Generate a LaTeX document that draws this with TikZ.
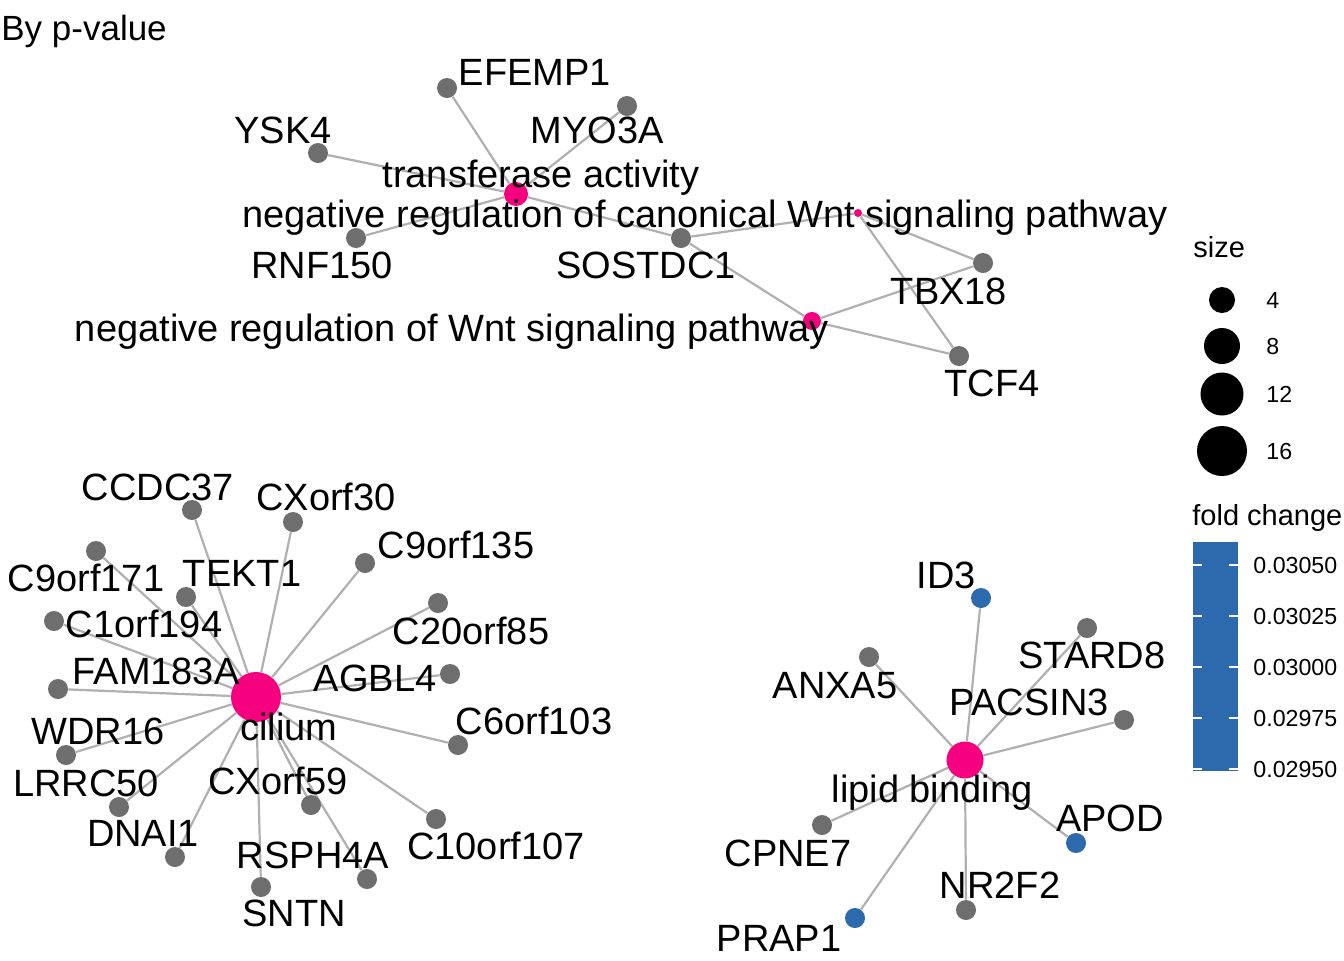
\documentclass[tikz,border=0pt]{standalone}
\usepackage{fontspec}
\setmainfont{Liberation Sans}
\usetikzlibrary{backgrounds}

\begin{document}
\begin{tikzpicture}[x=0.5pt,y=-0.5pt,
  gene/.style={circle,fill=dotgray,inner sep=0pt,minimum size=10pt},
  upgene/.style={gene,fill=fcblue},
  hub/.style={circle,fill=hubpink,inner sep=0pt},
  lab/.style={inner sep=0pt,text height=13.6pt,text depth=0pt,
    font=\fontsize{19}{21}\selectfont},
  link/.style={draw=linkgray,line width=1.1pt},
  keytitle/.style={inner sep=0pt,anchor=base west,font=\fontsize{14.5}{16}\selectfont},
  keytext/.style={inner sep=0pt,anchor=west,text height=8.3pt,text depth=0pt,
    font=\fontsize{11.6}{13}\selectfont}]
\definecolor{dotgray}{HTML}{6E6E6E}
\definecolor{linkgray}{HTML}{B0B0B0}
\definecolor{hubpink}{HTML}{F5007F}
\definecolor{fcblue}{HTML}{2C6AAD}
\useasboundingbox (0,0) rectangle (1344,960);

\node[keytitle,font=\fontsize{17.5}{19}\selectfont] (title) at (1,40) {By p-value};

% Wnt / transferase cluster
\node[hub,minimum size=12pt] (trans) at (516,194) {};
\node[hub,minimum size=4pt] (canon) at (858,213) {};
\node[hub,minimum size=9pt] (wntneg) at (812,321) {};
\foreach \g/\x/\y/\lx/\ly in {EFEMP1/447/88/535/72, MYO3A/627/106/597/130,
    YSK4/318/153/283/130, RNF150/356/238/322/265, SOSTDC1/681/238/646/265,
    TBX18/983/263/949/291, TCF4/959/356/992/383}
{
  \node[gene] (\g) at (\x,\y) {};
  \node[lab] (\g-t) at (\lx,\ly) {\g};
}
\node[lab] (trans-t) at (541,174) {transferase activity};
\node[lab] (canon-t) at (705,214) {negative regulation of canonical Wnt signaling pathway};
\node[lab] (wntneg-t) at (452,328) {negative regulation of Wnt signaling pathway};

% cilium cluster
\node[hub,minimum size=25pt] (cilium) at (256,697) {};
\foreach \g/\x/\y/\lx/\ly in {CCDC37/192/510/158/487, CXorf30/293/522/326/497,
    C9orf135/365/563/456/545, C9orf171/96/551/86/578, TEKT1/186/597/242/573,
    C1orf194/54/621/144/624, C20orf85/438/603/471/631, FAM183A/58/689/156/671,
    AGBL4/450/674/375/678, WDR16/66/755/98/731, C6orf103/458/745/534/721,
    LRRC50/119/807/86/783, CXorf59/311/805/278/781, DNAI1/175/857/143/833,
    C10orf107/436/819/496/846, RSPH4A/367/879/313/855, SNTN/261/887/294/913}
{
  \node[gene] (\g) at (\x,\y) {};
  \node[lab] (\g-t) at (\lx,\ly) {\g};
}
\node[lab] (cilium-t) at (289,727) {cilium};

% lipid binding cluster
\node[hub,minimum size=18.5pt] (lipid) at (965,760) {};
\foreach \g/\x/\y/\lx/\ly in {STARD8/1087/628/1092/655, ANXA5/869/657/835/685,
    PACSIN3/1124/720/1029/702, NR2F2/966/910/1000/885, CPNE7/822/825/788/853}
{
  \node[gene] (\g) at (\x,\y) {};
  \node[lab] (\g-t) at (\lx,\ly) {\g};
}
\foreach \g/\x/\y/\lx/\ly in {ID3/981/598/946/575, APOD/1076/843/1110/818,
    PRAP1/855/918/779/938}
{
  \node[upgene] (\g) at (\x,\y) {};
  \node[lab] (\g-t) at (\lx,\ly) {\g};
}
\node[lab] (lipid-t) at (932,789) {lipid binding};

% connectors behind everything
\begin{scope}[on background layer]
\fill[white] (0,0) rectangle (1344,960);
\foreach \g in {EFEMP1,MYO3A,YSK4,RNF150,SOSTDC1}
  \draw[link] (trans) -- (\g);
\foreach \g in {SOSTDC1,TBX18,TCF4}
  \draw[link] (canon) -- (\g) (wntneg) -- (\g);
\foreach \g in {CCDC37,CXorf30,C9orf135,C9orf171,TEKT1,C1orf194,C20orf85,
    FAM183A,AGBL4,WDR16,C6orf103,LRRC50,CXorf59,DNAI1,C10orf107,RSPH4A,SNTN}
  \draw[link] (cilium) -- (\g);
\foreach \g in {ID3,STARD8,ANXA5,PACSIN3,APOD,NR2F2,PRAP1,CPNE7}
  \draw[link] (lipid) -- (\g);
\end{scope}

% size legend
\node[keytitle] (size-t) at (1193,257) {size};
\foreach \s/\d/\y in {4/13/300, 8/18/346, 12/21.5/394, 16/25/451}
{
  \node[circle,fill=black,inner sep=0pt,minimum size=\d pt] (size\s) at (1222,\y) {};
  \node[keytext] (size\s-t) at (1266,\y) {\s};
}

% fold change legend
\node[keytitle] (fc-t) at (1192,525) {fold change};
\fill[fcblue] (1193,542) rectangle (1238,771);
\foreach \v/\y in {0.03050/565, 0.03025/616, 0.03000/667, 0.02975/718, 0.02950/769}
{
  \draw[white,line width=0.6pt] (1193,\y) -- (1202,\y) (1229,\y) -- (1238,\y);
  \node[keytext] (fc\y) at (1253,\y) {\v};
}
\end{tikzpicture}
\end{document}
